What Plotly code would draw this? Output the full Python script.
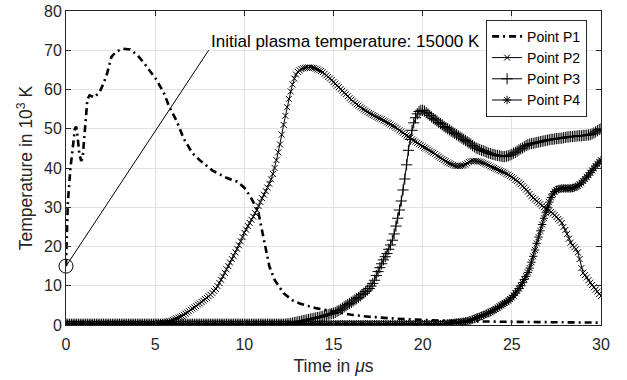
import plotly.graph_objects as go

# ---------------- data ----------------
# Point P1: dash-dot curve, own time base (µs) and temperature (10^3 K)
time_p1 = [0, 0.1, 0.25, 0.4, 0.5, 0.57, 0.65, 0.75, 0.85, 0.93, 1.0, 1.1, 1.2, 1.32,
           1.6, 1.9, 2.1, 2.3, 2.55, 2.8, 3.2, 3.6, 4.0, 4.4, 4.8, 5.1, 5.5, 5.8, 6.2,
           6.6, 7.1, 7.5, 8.2, 9.0, 9.6, 10.0, 10.3, 10.6, 10.8, 11.0, 11.2, 11.4, 11.7,
           12.2, 12.7, 13.1, 14.0, 15.0, 16.0, 17.0, 18.5, 20.0, 22.0, 25.0, 28.0, 30.0]
temp_p1 = [15, 31, 40, 47, 50, 50.5, 48, 43.5, 41.8, 42.5, 47, 53, 57.5, 58.5,
           58.0, 59.5, 61.5, 64, 68.3, 69.6, 70.4, 70.2, 68.8, 66.6, 64, 62.3, 59, 55.5, 52,
           47.5, 43.7, 42, 39.4, 37.5, 36.5, 35, 33, 30.5, 28.4, 24, 19.5, 15, 11.5,
           8.1, 6.3, 5.5, 4.3, 3.4, 2.6, 2.1, 1.6, 1.3, 1.0, 0.8, 0.7, 0.6]

# Points P2..P4: sampled every 0.1 µs from 0 to 30 µs
time_step = 0.1
n_samples = 301
time_grid = [round(i * time_step, 1) for i in range(n_samples)]

temp_p2 = [
    0.2, 0.2, 0.2, 0.2, 0.2, 0.2, 0.2, 0.2, 0.2, 0.2,
    0.2, 0.2, 0.2, 0.2, 0.2, 0.2, 0.2, 0.2, 0.2, 0.2,
    0.2, 0.2, 0.2, 0.2, 0.2, 0.2, 0.2, 0.2, 0.2, 0.2,
    0.2, 0.2, 0.2, 0.2, 0.2, 0.2, 0.2, 0.2, 0.2, 0.2,
    0.2, 0.2, 0.2, 0.2, 0.2, 0.2, 0.2, 0.2, 0.2, 0.2,
    0.2, 0.2, 0.2, 0.3, 0.4, 0.5, 0.6, 0.8, 0.9, 1.1,
    1.3, 1.5, 1.7, 1.9, 2.1, 2.3, 2.6, 2.9, 3.2, 3.5,
    3.9, 4.2, 4.5, 4.8, 5.2, 5.5, 5.9, 6.2, 6.6, 6.9,
    7.3, 7.7, 8.2, 8.7, 9.2, 9.9, 10.7, 11.5, 12.4, 13.3,
    14.2, 15.0, 15.9, 16.8, 17.6, 18.5, 19.4, 20.3, 21.3, 22.4,
    23.5, 24.3, 25.2, 26.0, 26.8, 27.6, 28.5, 29.3, 30.3, 31.3,
    32.3, 33.2, 34.1, 35.0, 36.0, 37.1, 38.5, 40.0, 42.0, 44.0,
    46.0, 48.5, 51.0, 53.3, 55.5, 57.6, 59.5, 61.3, 62.8, 63.8,
    64.5, 64.9, 65.2, 65.4, 65.5, 65.6, 65.6, 65.6, 65.5, 65.5,
    65.3, 65.1, 64.9, 64.7, 64.4, 64.0, 63.6, 63.2, 62.8, 62.4,
    61.9, 61.5, 61.0, 60.6, 60.1, 59.7, 59.2, 58.8, 58.3, 57.8,
    57.4, 57.0, 56.6, 56.2, 55.9, 55.5, 55.2, 54.9, 54.6, 54.3,
    54.0, 53.8, 53.5, 53.3, 53.0, 52.8, 52.6, 52.4, 52.1, 51.9,
    51.6, 51.4, 51.1, 50.8, 50.6, 50.3, 50.0, 49.6, 49.3, 49.0,
    48.6, 48.3, 48.0, 47.7, 47.3, 47.0, 46.7, 46.4, 46.1, 45.8,
    45.5, 45.2, 45.0, 44.7, 44.4, 44.1, 43.9, 43.6, 43.2, 42.9,
    42.6, 42.3, 42.0, 41.7, 41.4, 41.2, 41.0, 40.8, 40.6, 40.5,
    40.5, 40.5, 40.6, 40.7, 40.9, 41.2, 41.5, 41.7, 41.8, 41.8,
    41.8, 41.7, 41.6, 41.5, 41.3, 41.1, 40.9, 40.7, 40.4, 40.2,
    40.0, 39.8, 39.6, 39.4, 39.2, 39.0, 38.8, 38.5, 38.3, 38.0,
    37.7, 37.4, 37.0, 36.7, 36.3, 35.9, 35.4, 35.0, 34.5, 34.0,
    33.4, 32.8, 32.4, 32.0, 31.6, 31.2, 30.8, 30.4, 30.0, 29.6,
    29.6, 29.2, 28.8, 28.4, 28.0, 27.5, 27.0, 26.6, 26.0, 25.0,
    24.2, 23.2, 22.0, 21.0, 20.3, 19.8, 19.3, 18.5, 16.8, 14.5,
    13.3, 12.7, 12.1, 11.4, 10.8, 10.2, 9.6, 9.0, 8.5, 7.9,
    7.4,
]

temp_p3 = [
    0.2, 0.2, 0.2, 0.2, 0.2, 0.2, 0.2, 0.2, 0.2, 0.2,
    0.2, 0.2, 0.2, 0.2, 0.2, 0.2, 0.2, 0.2, 0.2, 0.2,
    0.2, 0.2, 0.2, 0.2, 0.2, 0.2, 0.2, 0.2, 0.2, 0.2,
    0.2, 0.2, 0.2, 0.2, 0.2, 0.2, 0.2, 0.2, 0.2, 0.2,
    0.2, 0.2, 0.2, 0.2, 0.2, 0.2, 0.2, 0.2, 0.2, 0.2,
    0.2, 0.2, 0.2, 0.2, 0.2, 0.2, 0.2, 0.2, 0.2, 0.2,
    0.2, 0.2, 0.2, 0.2, 0.2, 0.2, 0.2, 0.2, 0.2, 0.2,
    0.2, 0.2, 0.2, 0.2, 0.2, 0.2, 0.2, 0.2, 0.2, 0.2,
    0.2, 0.2, 0.2, 0.2, 0.2, 0.2, 0.2, 0.2, 0.2, 0.2,
    0.2, 0.2, 0.2, 0.2, 0.2, 0.2, 0.2, 0.2, 0.2, 0.2,
    0.2, 0.2, 0.2, 0.2, 0.2, 0.2, 0.2, 0.2, 0.2, 0.2,
    0.2, 0.2, 0.2, 0.2, 0.2, 0.2, 0.2, 0.2, 0.2, 0.2,
    0.2, 0.2, 0.2, 0.2, 0.3, 0.3, 0.4, 0.5, 0.6, 0.7,
    0.8, 0.9, 1.0, 1.1, 1.2, 1.3, 1.4, 1.5, 1.6, 1.7,
    1.8, 1.9, 2.0, 2.1, 2.2, 2.4, 2.5, 2.6, 2.8, 2.9,
    3.0, 3.2, 3.5, 3.7, 4.0, 4.3, 4.6, 4.9, 5.2, 5.5,
    5.8, 6.1, 6.4, 6.7, 7.0, 7.4, 7.8, 8.1, 8.5, 8.9,
    9.3, 9.9, 10.6, 11.4, 12.6, 13.6, 14.6, 15.6, 16.6, 17.4,
    18.2, 19.3, 20.4, 21.6, 23.2, 25.2, 27.2, 29.3, 31.6, 34.4,
    37.2, 40.8, 44.5, 47.3, 49.6, 51.5, 52.8, 53.8, 54.4, 54.7,
    54.7, 54.5, 54.1, 53.8, 53.4, 53.0, 52.6, 52.3, 52.0, 51.6,
    51.3, 51.0, 50.6, 50.3, 50.0, 49.7, 49.4, 49.1, 48.8, 48.5,
    48.2, 47.9, 47.6, 47.3, 47.0, 46.7, 46.4, 46.1, 45.7, 45.4,
    45.1, 44.9, 44.7, 44.5, 44.4, 44.2, 44.0, 43.8, 43.7, 43.5,
    43.4, 43.3, 43.2, 43.1, 43.0, 42.9, 42.9, 43.0, 43.1, 43.3,
    43.5, 43.8, 44.0, 44.3, 44.6, 44.9, 45.1, 45.4, 45.7, 45.9,
    46.1, 46.2, 46.3, 46.4, 46.5, 46.6, 46.7, 46.8, 46.9, 47.0,
    47.1, 47.2, 47.3, 47.3, 47.4, 47.5, 47.5, 47.6, 47.6, 47.7,
    47.8, 47.9, 47.9, 48.0, 48.0, 48.1, 48.1, 48.2, 48.2, 48.2,
    48.3, 48.3, 48.4, 48.4, 48.5, 48.7, 48.9, 49.2, 49.5, 49.8,
    50.0,
]

temp_p4 = [
    0.2, 0.2, 0.2, 0.2, 0.2, 0.2, 0.2, 0.2, 0.2, 0.2,
    0.2, 0.2, 0.2, 0.2, 0.2, 0.2, 0.2, 0.2, 0.2, 0.2,
    0.2, 0.2, 0.2, 0.2, 0.2, 0.2, 0.2, 0.2, 0.2, 0.2,
    0.2, 0.2, 0.2, 0.2, 0.2, 0.2, 0.2, 0.2, 0.2, 0.2,
    0.2, 0.2, 0.2, 0.2, 0.2, 0.2, 0.2, 0.2, 0.2, 0.2,
    0.2, 0.2, 0.2, 0.2, 0.2, 0.2, 0.2, 0.2, 0.2, 0.2,
    0.2, 0.2, 0.2, 0.2, 0.2, 0.2, 0.2, 0.2, 0.2, 0.2,
    0.2, 0.2, 0.2, 0.2, 0.2, 0.2, 0.2, 0.2, 0.2, 0.2,
    0.2, 0.2, 0.2, 0.2, 0.2, 0.2, 0.2, 0.2, 0.2, 0.2,
    0.2, 0.2, 0.2, 0.2, 0.2, 0.2, 0.2, 0.2, 0.2, 0.2,
    0.2, 0.2, 0.2, 0.2, 0.2, 0.2, 0.2, 0.2, 0.2, 0.2,
    0.2, 0.2, 0.2, 0.2, 0.2, 0.2, 0.2, 0.2, 0.2, 0.2,
    0.2, 0.2, 0.2, 0.2, 0.2, 0.2, 0.2, 0.2, 0.2, 0.2,
    0.2, 0.2, 0.2, 0.2, 0.2, 0.2, 0.2, 0.2, 0.2, 0.2,
    0.2, 0.2, 0.2, 0.2, 0.2, 0.2, 0.2, 0.2, 0.2, 0.2,
    0.2, 0.2, 0.2, 0.2, 0.2, 0.2, 0.2, 0.2, 0.2, 0.2,
    0.2, 0.2, 0.2, 0.2, 0.2, 0.2, 0.2, 0.2, 0.2, 0.2,
    0.2, 0.2, 0.2, 0.2, 0.2, 0.2, 0.2, 0.2, 0.2, 0.2,
    0.2, 0.2, 0.2, 0.2, 0.2, 0.2, 0.2, 0.2, 0.2, 0.2,
    0.2, 0.2, 0.2, 0.2, 0.2, 0.2, 0.2, 0.2, 0.2, 0.2,
    0.2, 0.2, 0.2, 0.2, 0.2, 0.2, 0.2, 0.2, 0.2, 0.2,
    0.2, 0.2, 0.3, 0.3, 0.4, 0.4, 0.5, 0.5, 0.6, 0.6,
    0.7, 0.7, 0.8, 0.8, 0.9, 1.0, 1.1, 1.2, 1.4, 1.6,
    1.8, 2.0, 2.1, 2.3, 2.5, 2.7, 2.9, 3.1, 3.3, 3.6,
    3.8, 4.1, 4.4, 4.7, 5.0, 5.3, 5.6, 5.9, 6.2, 6.6,
    7.0, 7.5, 8.1, 8.7, 9.3, 10.0, 10.8, 11.6, 12.4, 13.4,
    14.5, 16.0, 17.5, 19.1, 20.8, 22.4, 24.0, 25.6, 27.2, 28.6,
    30.0, 31.3, 32.5, 33.4, 34.0, 34.4, 34.6, 34.7, 34.8, 34.8,
    34.8, 34.8, 34.8, 34.8, 34.9, 35.0, 35.2, 35.5, 35.8, 36.2,
    36.7, 37.2, 37.7, 38.2, 38.8, 39.4, 39.9, 40.5, 41.0, 41.5,
    42.0,
]

series_names = ["Point P1", "Point P2", "Point P3", "Point P4"]
x_ticks = [0, 5, 10, 15, 20, 25, 30]
y_ticks = [0, 10, 20, 30, 40, 50, 60, 70, 80]

# annotation: initial plasma temperature
init_time = 0.0
init_temp = 15.0
note_text = "Initial plasma temperature: 15000 K"
note_line_end = (8.0, 70.0)
note_text_pos = (8.0, 72.2)

# ---------------- figure ----------------
FONT = "Liberation Sans, Arial, Helvetica, sans-serif"
INK = "#262626"

fig = go.Figure()

fig.add_trace(go.Scatter(
    x=time_p1, y=temp_p1, name=series_names[0], mode="lines",
    line=dict(color="black", width=2.6, dash="7px,4px,2px,4px"),
))
fig.add_trace(go.Scatter(
    x=time_grid, y=temp_p2, name=series_names[1], mode="lines+markers",
    line=dict(color="black", width=1),
    marker=dict(symbol="x-thin", size=6, color="black",
                line=dict(color="black", width=1)),
))
fig.add_trace(go.Scatter(
    x=time_grid, y=temp_p3, name=series_names[2], mode="lines+markers",
    line=dict(color="black", width=1),
    marker=dict(symbol="cross-thin", size=8, color="black",
                line=dict(color="black", width=1)),
))
fig.add_trace(go.Scatter(
    x=time_grid, y=temp_p4, name=series_names[3], mode="lines+markers",
    line=dict(color="black", width=1),
    marker=dict(symbol="asterisk", size=7, color="black",
                line=dict(color="black", width=1)),
))

# open circle marking the initial temperature
fig.add_trace(go.Scatter(
    x=[init_time], y=[init_temp], mode="markers", showlegend=False,
    marker=dict(symbol="circle-open", size=14, color="black",
                line=dict(color="black", width=1)),
    cliponaxis=False,
))

fig.add_shape(type="line", xref="x", yref="y",
              x0=init_time, y0=init_temp,
              x1=note_line_end[0], y1=note_line_end[1],
              line=dict(color="black", width=1))
fig.add_annotation(x=note_text_pos[0], y=note_text_pos[1], xref="x", yref="y",
                   text=note_text, showarrow=False, xanchor="left",
                   yanchor="middle",
                   font=dict(family=FONT, size=17, color="black"))

axis_common = dict(
    showline=True, linecolor=INK, linewidth=1, mirror="ticks",
    ticks="inside", ticklen=5, tickcolor=INK, tickwidth=1,
    showgrid=True, gridcolor="#e2e2e2", gridwidth=1, zeroline=False,
    tickfont=dict(family=FONT, size=16, color=INK),
    automargin=False,
)

fig.update_xaxes(range=[0, 30], tickvals=x_ticks, ticklabelstandoff=5,
                 title=dict(text="Time in <i>μ</i>s", standoff=7,
                            font=dict(family=FONT, size=17.5, color=INK)),
                 **axis_common)
fig.update_yaxes(range=[0, 80], tickvals=y_ticks,
                 title=dict(text="Temperature in 10<sup>3</sup> K", standoff=6,
                            font=dict(family=FONT, size=17.5, color=INK)),
                 **axis_common)

fig.update_layout(
    width=627, height=380,
    margin=dict(l=66, r=26, t=11, b=55),
    paper_bgcolor="white", plot_bgcolor="white",
    font=dict(family=FONT, color=INK),
    legend=dict(x=0.974, y=0.972, xanchor="right", yanchor="top",
                bgcolor="white", bordercolor=INK, borderwidth=1,
                font=dict(family=FONT, size=14, color="black"),
                tracegroupgap=0, itemwidth=30),
    showlegend=True,
)

fig.write_html("out.html")
